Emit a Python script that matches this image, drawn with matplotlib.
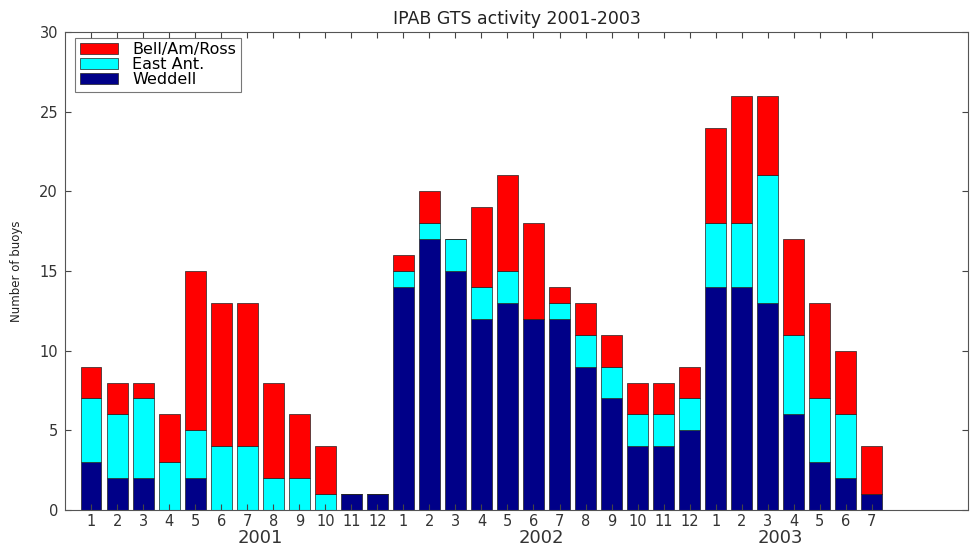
import matplotlib
matplotlib.use("Agg")
import matplotlib.pyplot as plt
import numpy as np

plt.rcParams['font.family'] = ['DejaVu Sans']

months = [1, 2, 3, 4, 5, 6, 7, 8, 9, 10, 11, 12,
          1, 2, 3, 4, 5, 6, 7, 8, 9, 10, 11, 12,
          1, 2, 3, 4, 5, 6, 7]
years = ["2001", "2002", "2003"]
year_pos = [7.5, 18.3, 27.5]

weddell = [3, 2, 2, 0, 2, 0, 0, 0, 0, 0, 1, 1,
           14, 17, 15, 12, 13, 12, 12, 9, 7, 4, 4, 5,
           14, 14, 13, 6, 3, 2, 1]
east_ant = [4, 4, 5, 3, 3, 4, 4, 2, 2, 1, 0, 0,
            1, 1, 2, 2, 2, 0, 1, 2, 2, 2, 2, 2,
            4, 4, 8, 5, 4, 4, 0]
bell_am_ross = [2, 2, 1, 3, 10, 9, 9, 6, 4, 3, 0, 0,
                1, 2, 0, 5, 6, 6, 1, 2, 2, 2, 2, 2,
                6, 8, 5, 6, 6, 4, 3]

x = np.arange(1, len(months) + 1)
weddell = np.array(weddell)
east_ant = np.array(east_ant)
bell_am_ross = np.array(bell_am_ross)

fig = plt.figure(figsize=(9.71, 5.47), dpi=100)
ax = fig.add_axes([0.067, 0.0676, 0.93, 0.874])

kw = dict(width=0.8, edgecolor='#222222', linewidth=0.5)
b_w = ax.bar(x, weddell, color='#000088', label='Weddell', **kw)
b_e = ax.bar(x, east_ant, bottom=weddell, color='#00ffff', label='East Ant.', **kw)
b_r = ax.bar(x, bell_am_ross, bottom=weddell + east_ant, color='#ff0000',
             label='Bell/Am/Ross', **kw)

ax.set_xlim(0, 34.7)
ax.set_ylim(0, 30)
ax.set_xticks(x)
ax.set_xticklabels([str(m) for m in months])
ax.set_yticks(range(0, 31, 5))
ax.tick_params(direction='in', top=True, right=True, labelsize=10.5,
               labelcolor='#333333', color='#444444', length=4, pad=3)
ax.tick_params(axis='y', pad=5)
for s in ax.spines.values():
    s.set_color('#555555')
    s.set_linewidth(0.8)

for yr, pos in zip(years, year_pos):
    ax.text(pos, -1.2, yr, ha='center', va='top', fontsize=13, color='#333333')

ax.set_ylabel("Number of buoys", fontsize=8.5, color='#222222', labelpad=12)
ax.set_title("IPAB GTS activity 2001-2003", fontsize=12.5, color='#222222', pad=6)

leg = ax.legend(handles=[b_r, b_e, b_w], loc='upper left', fontsize=11.5,
                bbox_to_anchor=(0.011, 0.988), fancybox=False, frameon=True,
                borderpad=0.3, labelspacing=0.0, handlelength=2.4,
                handleheight=0.7, handletextpad=0.9, borderaxespad=0)
leg.get_frame().set_edgecolor('#555555')
leg.get_frame().set_linewidth(0.8)

fig.savefig("out.png", dpi=100)
